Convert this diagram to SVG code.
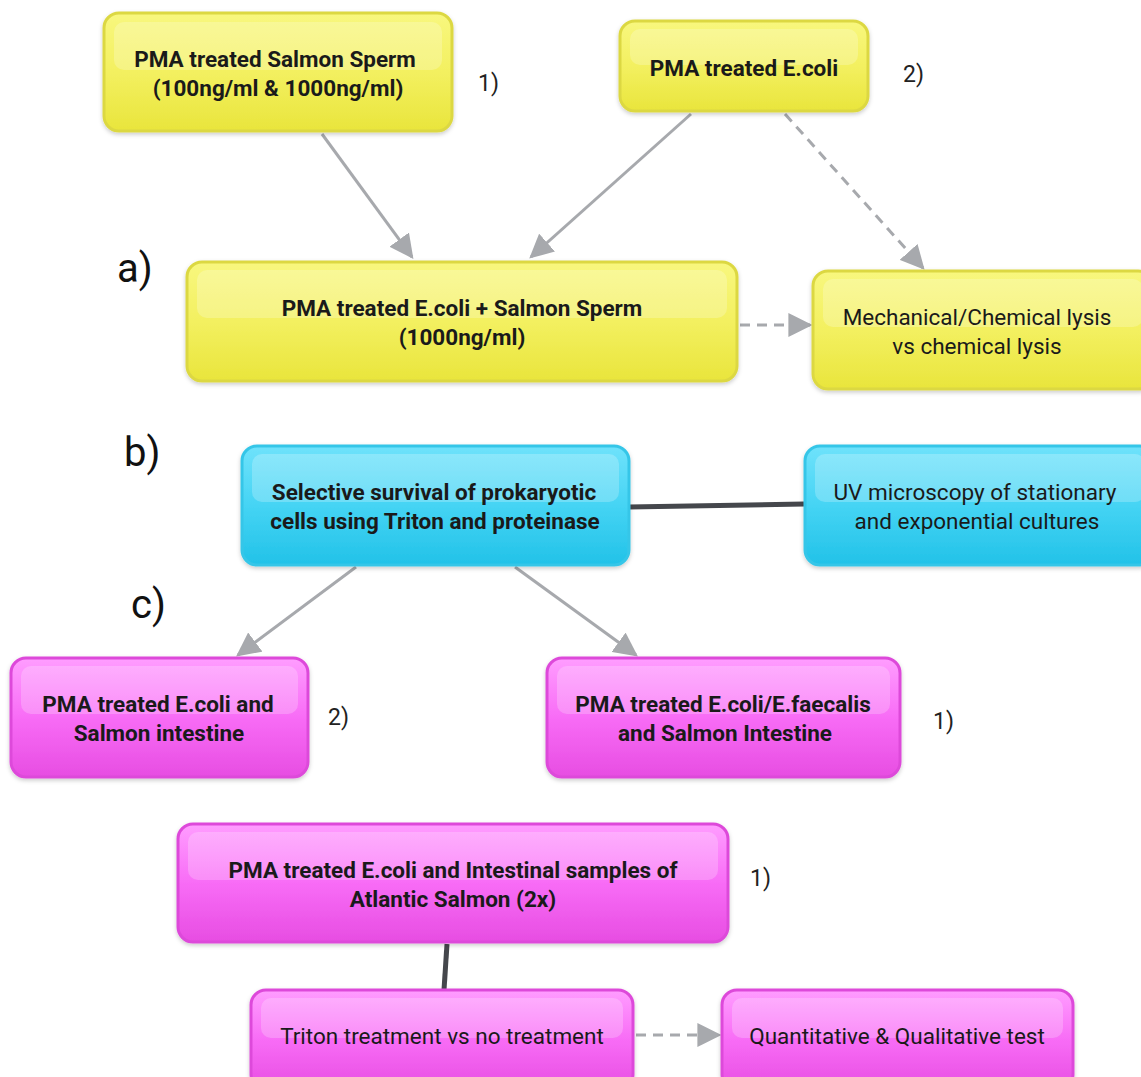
<svg xmlns="http://www.w3.org/2000/svg" width="1141" height="1077" viewBox="0 0 1141 1077">
<defs>
<linearGradient id="gy" x1="0" y1="0" x2="0" y2="1"><stop offset="0" stop-color="#f8f77e"/><stop offset="0.5" stop-color="#f3f060"/><stop offset="1" stop-color="#e9e53c"/></linearGradient>
<linearGradient id="gc" x1="0" y1="0" x2="0" y2="1"><stop offset="0" stop-color="#6fe2fb"/><stop offset="0.5" stop-color="#45d4f4"/><stop offset="1" stop-color="#22c2e8"/></linearGradient>
<linearGradient id="gp" x1="0" y1="0" x2="0" y2="1"><stop offset="0" stop-color="#ff9dff"/><stop offset="0.5" stop-color="#f86cf6"/><stop offset="1" stop-color="#e74de2"/></linearGradient>
<filter id="sh" x="-5%" y="-5%" width="110%" height="120%"><feDropShadow dx="0" dy="2" stdDeviation="2" flood-color="#000" flood-opacity="0.2"/></filter>
<marker id="a" viewBox="0 0 10 10" refX="9" refY="5" markerWidth="24" markerHeight="24" markerUnits="userSpaceOnUse" orient="auto"><path d="M0,0 L10,5 L0,10 z" fill="#a7a9ad"/></marker>
</defs>
<style>
.y{fill:url(#gy);stroke:#dcd843;stroke-width:3;filter:url(#sh)}
.c{fill:url(#gc);stroke:#36c6e8;stroke-width:3;filter:url(#sh)}
.p{fill:url(#gp);stroke:#dd4ada;stroke-width:3;filter:url(#sh)}
.hl{fill:#fff;opacity:0.22}
.t{font-family:Roboto,"Liberation Sans",sans-serif;font-size:22.5px;fill:#1a1a1a;text-anchor:middle}
.b{font-weight:bold;font-size:22.5px}
.lab{font-family:Roboto,"Liberation Sans",sans-serif;font-size:23px;fill:#222}
.big{font-family:Roboto,"Liberation Sans",sans-serif;font-size:40px;fill:#111}
.ln{stroke:#a7a9ad;stroke-width:3;fill:none}
.ds{stroke:#a7a9ad;stroke-width:3;fill:none;stroke-dasharray:10 7}
.dk{stroke:#45474c;stroke-width:5;fill:none}
</style>
<g id="connectors">
<line class="ln" x1="322" y1="134" x2="412" y2="257" marker-end="url(#a)"/>
<line class="ln" x1="691" y1="114" x2="531" y2="257" marker-end="url(#a)"/>
<line class="ds" x1="785" y1="114" x2="923" y2="268" marker-end="url(#a)"/>
<line class="ds" x1="740" y1="325" x2="810" y2="325" marker-end="url(#a)"/>
<line class="dk" x1="629" y1="507" x2="804" y2="504"/>
<line class="ln" x1="356" y1="567" x2="238" y2="655" marker-end="url(#a)"/>
<line class="ln" x1="515" y1="567" x2="636" y2="655" marker-end="url(#a)"/>
<line class="dk" x1="447" y1="944" x2="444" y2="990"/>
<line class="ds" x1="636" y1="1035" x2="719" y2="1035" marker-end="url(#a)"/>
</g>
<g id="n1"><rect class="y" x="104" y="13" width="348" height="118" rx="15"/><rect class="hl" x="114" y="22" width="328" height="48" rx="10"/>
<text class="t b" x="275" y="67">PMA treated Salmon Sperm</text><text class="t b" x="278" y="96">(100ng/ml &amp; 1000ng/ml)</text></g>
<g id="n2"><rect class="y" x="620" y="21" width="248" height="90" rx="15"/><rect class="hl" x="630" y="29" width="228" height="36" rx="10"/>
<text class="t b" x="744" y="76">PMA treated E.coli</text></g>
<g id="n3"><rect class="y" x="187" y="262" width="550" height="119" rx="15"/><rect class="hl" x="197" y="270" width="530" height="48" rx="10"/>
<text class="t b" x="462" y="316">PMA treated E.coli + Salmon Sperm</text><text class="t b" x="462" y="345">(1000ng/ml)</text></g>
<g id="n4"><rect class="y" x="813" y="271" width="340" height="118" rx="15"/><rect class="hl" x="823" y="279" width="320" height="48" rx="10"/>
<text class="t" x="977" y="325">Mechanical/Chemical lysis</text><text class="t" x="977" y="354">vs chemical lysis</text></g>
<g id="n5"><rect class="c" x="242" y="446" width="387" height="119" rx="15"/><rect class="hl" x="252" y="454" width="367" height="48" rx="10"/>
<text class="t b" x="434" y="500">Selective survival of prokaryotic</text><text class="t b" x="435" y="529">cells using Triton and proteinase</text></g>
<g id="n6"><rect class="c" x="805" y="446" width="350" height="119" rx="15"/><rect class="hl" x="815" y="454" width="330" height="48" rx="10"/>
<text class="t" x="975" y="500">UV microscopy of stationary</text><text class="t" x="977" y="529">and exponential cultures</text></g>
<g id="n7"><rect class="p" x="11" y="658" width="297" height="119" rx="15"/><rect class="hl" x="21" y="666" width="277" height="48" rx="10"/>
<text class="t b" x="158" y="712">PMA treated E.coli and</text><text class="t b" x="159" y="741">Salmon intestine</text></g>
<g id="n8"><rect class="p" x="547" y="658" width="353" height="119" rx="15"/><rect class="hl" x="557" y="666" width="333" height="48" rx="10"/>
<text class="t b" x="723" y="712">PMA treated E.coli/E.faecalis</text><text class="t b" x="725" y="741">and Salmon Intestine</text></g>
<g id="n9"><rect class="p" x="178" y="824" width="550" height="118" rx="15"/><rect class="hl" x="188" y="832" width="530" height="48" rx="10"/>
<text class="t b" x="453" y="878">PMA treated E.coli and Intestinal samples of</text><text class="t b" x="453" y="907">Atlantic Salmon (2x)</text></g>
<g id="n10"><rect class="p" x="251" y="990" width="382" height="100" rx="15"/><rect class="hl" x="261" y="998" width="362" height="40" rx="10"/>
<text class="t" x="442" y="1044">Triton treatment vs no treatment</text></g>
<g id="n11"><rect class="p" x="722" y="990" width="351" height="100" rx="15"/><rect class="hl" x="732" y="998" width="331" height="40" rx="10"/>
<text class="t" x="897" y="1044">Quantitative &amp; Qualitative test</text></g>
<g id="labels">
<text class="lab" x="478" y="91">1)</text>
<text class="lab" x="903" y="82">2)</text>
<text class="big" x="117" y="282">a)</text>
<text class="big" x="124" y="466">b)</text>
<text class="big" x="131" y="618">c)</text>
<text class="lab" x="328" y="725">2)</text>
<text class="lab" x="933" y="729">1)</text>
<text class="lab" x="750" y="886">1)</text>
</g>
</svg>
